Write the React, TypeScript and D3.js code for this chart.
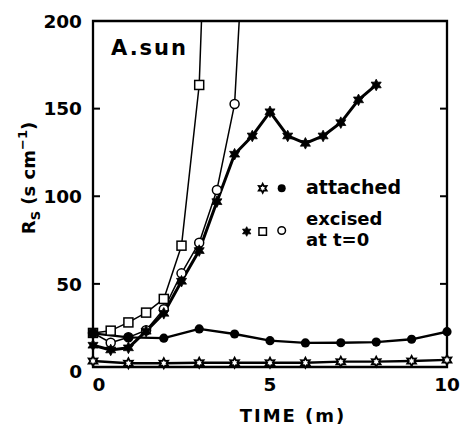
import React from "react";
import * as d3 from "d3";

// Stomatal resistance (Rs, s cm^-1) of A. sun leaves over time (minutes)
const attachedTime = [0, 1, 2, 3, 4, 5, 6, 7, 8, 9, 10];
const attachedStarRs = [6, 4.7, 4.7, 5, 5, 5, 5, 5.6, 5.6, 6, 6.6];
const attachedCircleRs = [21.8, 19.5, 19, 24.3, 21.4, 17.6, 16.3, 16.4, 16.8, 18.4, 22.7];

const excisedStarTime = [0, 0.5, 1, 1.5, 2, 2.5, 3, 3.5, 4, 4.5, 5, 5.5, 6, 6.5, 7, 7.5, 8];
const excisedStarRs = [15, 12.3, 13.5, 23, 33.2, 51.5, 69, 96.9, 124, 134.4, 148.2, 134.4, 130.2, 134.4, 142, 155, 163.5];

const excisedSquareTime = [0, 0.5, 1, 1.5, 2, 2.5, 3, 3.5];
const excisedSquareRs = [22, 23.3, 28, 33.6, 41.4, 71.8, 163.5, 445];

const excisedCircleTime = [0, 0.5, 1, 1.5, 2, 2.5, 3, 3.5, 4, 4.5];
const excisedCircleRs = [22, 16.4, 19.5, 23.5, 35.5, 56, 73.5, 103.6, 152.6, 335];

const yTicks = [0, 50, 100, 150, 200];
const xTicks = [0, 5, 10];

const W = 462;
const H = 426;
const FONT = "'DejaVu Sans', 'Liberation Sans', Arial, sans-serif";

const x = d3.scaleLinear().domain([0, 10]).range([93, 447]);
const y = d3.scaleLinear().domain([0, 200]).range([371.5, 21]);
// the drawn x axis line sits a little above the zero baseline
const axisY = y(0) - 4.5;

type Pt = [number, number];
const zip = (t: number[], v: number[]): Pt[] => t.map((tt, i) => [tt, v[i]]);

const line = d3
  .line<Pt>()
  .x((d) => x(d[0]))
  .y((d) => y(d[1]));

function star6(r: number): string {
  const inner = r * 0.55;
  const pts: Pt[] = [];
  for (let i = 0; i < 12; i++) {
    const a = (-90 + i * 30) * (Math.PI / 180);
    const rr = i % 2 === 0 ? r : inner;
    pts.push([rr * Math.cos(a), rr * Math.sin(a)]);
  }
  return "M" + pts.map((p) => p[0].toFixed(2) + "," + p[1].toFixed(2)).join("L") + "Z";
}

const FilledStar = ({ cx, cy, r }: { cx: number; cy: number; r: number }) => (
  <path d={star6(r)} transform={`translate(${cx},${cy})`} fill="#000" stroke="#000" strokeWidth={0.8} />
);
const OpenStar = ({ cx, cy, r }: { cx: number; cy: number; r: number }) => (
  <path d={star6(r)} transform={`translate(${cx},${cy})`} fill="#fff" stroke="#000" strokeWidth={1.8} />
);
const FilledDot = ({ cx, cy, r }: { cx: number; cy: number; r: number }) => (
  <circle cx={cx} cy={cy} r={r} fill="#000" />
);
const OpenDot = ({ cx, cy, r }: { cx: number; cy: number; r: number }) => (
  <circle cx={cx} cy={cy} r={r} fill="#fff" stroke="#000" strokeWidth={1.5} />
);
const OpenSquare = ({ cx, cy, s }: { cx: number; cy: number; s: number }) => (
  <rect x={cx - s / 2} y={cy - s / 2} width={s} height={s} fill="#fff" stroke="#000" strokeWidth={1.5} />
);

export default function App() {
  const aStar = zip(attachedTime, attachedStarRs);
  const aCirc = zip(attachedTime, attachedCircleRs);
  const eStar = zip(excisedStarTime, excisedStarRs);
  const eSq = zip(excisedSquareTime, excisedSquareRs);
  const eCirc = zip(excisedCircleTime, excisedCircleRs);
  const inPlot = (d: Pt) => d[1] <= 200;

  const x0 = x(0);
  const x1 = x(10);
  const yTop = y(200);

  return (
    <svg
      width={W}
      height={H}
      viewBox={`0 0 ${W} ${H}`}
      style={{ position: "absolute", left: 0, top: 0, background: "#fff" }}
      fontFamily={FONT}
    >
      <defs>
        <clipPath id="plotClip">
          <rect x={x0} y={yTop} width={x1 - x0} height={axisY - yTop} />
        </clipPath>
      </defs>
      <rect width={W} height={H} fill="#fff" />

      {/* frame */}
      <path
        d={`M${x0},${yTop}L${x1},${yTop}L${x1},${axisY}L${x0},${axisY}Z`}
        fill="none"
        stroke="#000"
        strokeWidth={2.3}
      />
      {yTicks
        .filter((v) => v > 0 && v < 200)
        .map((v) => (
          <g key={"yt" + v}>
            <line x1={x0} x2={x0 + 7} y1={y(v)} y2={y(v)} stroke="#000" strokeWidth={2} />
            <line x1={x1} x2={x1 - 7} y1={y(v)} y2={y(v)} stroke="#000" strokeWidth={2} />
          </g>
        ))}

      {/* tick labels */}
      {yTicks.map((v) => (
        <text
          key={"yl" + v}
          x={82}
          y={y(v)}
          dy="0.36em"
          textAnchor="end"
          fontSize={18.5}
          fontWeight="bold"
        >
          {v}
        </text>
      ))}
      {xTicks.map((v) => (
        <text
          key={"xl" + v}
          x={x(v) + (v === 0 ? 6 : 0)}
          y={391}
          textAnchor="middle"
          fontSize={18.5}
          fontWeight="bold"
        >
          {v}
        </text>
      ))}

      {/* axis titles */}
      <text x={293} y={422} textAnchor="middle" fontSize={18} fontWeight="bold" letterSpacing={2}>
        TIME (m)
      </text>
      <text
        transform="translate(35,178) rotate(-90)"
        textAnchor="middle"
        fontSize={18}
        fontWeight="bold"
      >
        R
        <tspan fontSize={13} dy={5}>S</tspan>
        <tspan dy={-5}> (s cm</tspan>
        <tspan fontSize={13} dy={-8}>−1</tspan>
        <tspan dy={8}>)</tspan>
      </text>

      {/* panel label */}
      <text x={111} y={55} fontSize={21} fontWeight="bold" letterSpacing={2}>
        A.sun
      </text>

      {/* series lines */}
      <g clipPath="url(#plotClip)" fill="none" stroke="#000" strokeLinejoin="round">
        <path d={line(eSq) ?? ""} strokeWidth={1.5} />
        <path d={line(eCirc) ?? ""} strokeWidth={1.5} />
        <path d={line(aStar) ?? ""} strokeWidth={2.3} />
        <path d={line(aCirc) ?? ""} strokeWidth={2.3} />
        <path d={line(eStar) ?? ""} strokeWidth={3} />
      </g>

      {/* markers */}
      {eSq.filter(inPlot).map((d, i) => (
        <OpenSquare key={"sq" + i} cx={x(d[0])} cy={y(d[1])} s={9} />
      ))}
      {eCirc.filter(inPlot).map((d, i) => (
        <OpenDot key={"oc" + i} cx={x(d[0])} cy={y(d[1])} r={4.5} />
      ))}
      {eStar.map((d, i) => (
        <FilledStar key={"fs" + i} cx={x(d[0])} cy={y(d[1])} r={5.8} />
      ))}
      {aStar.map((d, i) => (
        <OpenStar key={"os" + i} cx={x(d[0])} cy={y(d[1])} r={5} />
      ))}
      {aCirc.map((d, i) => (
        <FilledDot key={"fd" + i} cx={x(d[0])} cy={y(d[1])} r={4.6} />
      ))}

      {/* legend */}
      <g>
        <OpenStar cx={262.7} cy={188.3} r={4.5} />
        <FilledDot cx={281.7} cy={188.3} r={4} />
        <text x={306} y={194} fontSize={19} fontWeight="bold">
          attached
        </text>
        <FilledStar cx={246.7} cy={231.5} r={4.8} />
        <OpenSquare cx={262.7} cy={231.5} s={7.5} />
        <OpenDot cx={281.7} cy={230.5} r={3.8} />
        <text x={306} y={225} fontSize={18} fontWeight="bold">
          excised
        </text>
        <text x={306} y={246} fontSize={18} fontWeight="bold">
          at t=0
        </text>
      </g>
    </svg>
  );
}
